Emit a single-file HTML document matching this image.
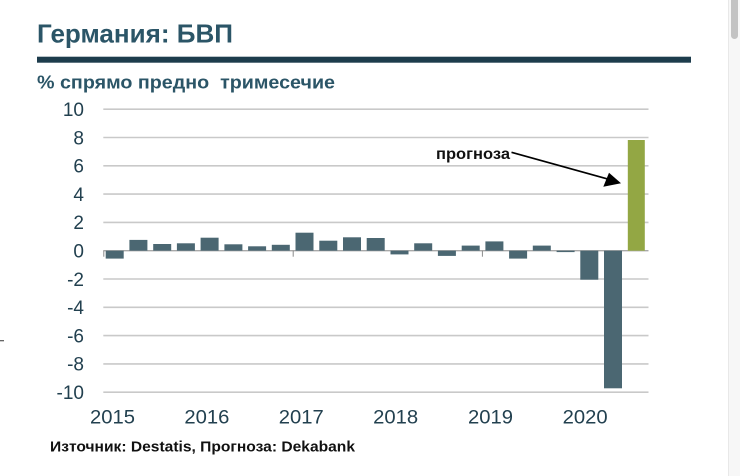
<!DOCTYPE html>
<html>
<head>
<meta charset="utf-8">
<style>
html,body{margin:0;padding:0;background:#fff;}
body{width:740px;height:476px;overflow:hidden;}
svg{display:block;}
text{font-family:"Liberation Sans","DejaVu Sans",sans-serif;}
</style>
</head>
<body>
<svg width="740" height="476" viewBox="0 0 740 476" xmlns="http://www.w3.org/2000/svg">
  <rect x="0" y="0" width="740" height="476" fill="#ffffff"/>
  <!-- scrollbar -->
  <rect x="728" y="0" width="12" height="476" fill="#f7f7f7"/>
  <line x1="728.5" y1="0" x2="728.5" y2="476" stroke="#e8e8e8" stroke-width="1"/>
  <rect x="731" y="-4" width="7" height="43" rx="3.5" fill="#c3c3c3"/>

  <!-- title -->
  <text x="37" y="42.3" font-size="26" font-weight="bold" fill="#2b5567" textLength="196" lengthAdjust="spacingAndGlyphs">Германия: БВП</text>
  <rect x="37" y="56.7" width="654" height="6" fill="#1d3c4c"/>
  <text x="37" y="88.3" font-size="18.5" font-weight="bold" fill="#2b5567" textLength="298" lengthAdjust="spacingAndGlyphs" xml:space="preserve">% спрямо предно  тримесечие</text>

  <!-- left stray dash -->
  <line x1="0" y1="340.7" x2="4" y2="340.7" stroke="#555" stroke-width="1.2"/>

  <!-- gridlines -->
  <g stroke="#c9c9c9" stroke-width="1.6">
    <line x1="103.3" y1="109.2" x2="648.5" y2="109.2"/>
    <line x1="103.3" y1="137.5" x2="648.5" y2="137.5"/>
    <line x1="103.3" y1="165.8" x2="648.5" y2="165.8"/>
    <line x1="103.3" y1="194.1" x2="648.5" y2="194.1"/>
    <line x1="103.3" y1="222.4" x2="648.5" y2="222.4"/>
    <line x1="103.3" y1="279.0" x2="648.5" y2="279.0"/>
    <line x1="103.3" y1="307.3" x2="648.5" y2="307.3"/>
    <line x1="103.3" y1="335.6" x2="648.5" y2="335.6"/>
    <line x1="103.3" y1="363.9" x2="648.5" y2="363.9"/>
    <line x1="103.3" y1="392.2" x2="648.5" y2="392.2"/>
  </g>
  <line x1="103.3" y1="250.7" x2="648.5" y2="250.7" stroke="#a9a9a9" stroke-width="1.4"/>
  <g stroke="#8a8a8a" stroke-width="1">
    <line x1="103.8" y1="250.7" x2="103.8" y2="256.7"/>
    <line x1="293.2" y1="250.7" x2="293.2" y2="256.7"/>
    <line x1="482.4" y1="250.7" x2="482.4" y2="256.7"/>
  </g>

  <!-- bars -->
  <g fill="#4b6772">
    <rect x="105.7" y="250.7" width="18" height="7.9"/>
    <rect x="129.4" y="239.9" width="18" height="10.8"/>
    <rect x="153.2" y="244.0" width="18" height="6.7"/>
    <rect x="176.9" y="243.3" width="18" height="7.4"/>
    <rect x="200.6" y="237.7" width="18" height="13.0"/>
    <rect x="224.4" y="244.3" width="18" height="6.4"/>
    <rect x="248.1" y="246.3" width="18" height="4.4"/>
    <rect x="271.8" y="244.8" width="18" height="5.9"/>
    <rect x="295.5" y="232.7" width="18" height="18.0"/>
    <rect x="319.3" y="240.7" width="18" height="10.0"/>
    <rect x="343.0" y="237.3" width="18" height="13.4"/>
    <rect x="366.7" y="238.0" width="18" height="12.7"/>
    <rect x="390.5" y="250.7" width="18" height="3.7"/>
    <rect x="414.2" y="243.3" width="18" height="7.4"/>
    <rect x="437.9" y="250.7" width="18" height="5.2"/>
    <rect x="461.7" y="245.6" width="18" height="5.1"/>
    <rect x="485.4" y="241.4" width="18" height="9.3"/>
    <rect x="509.1" y="250.7" width="18" height="7.9"/>
    <rect x="532.8" y="245.6" width="18" height="5.1"/>
    <rect x="556.6" y="250.7" width="18" height="1.4"/>
    <rect x="580.3" y="250.7" width="18" height="29.0"/>
    <rect x="604.0" y="250.7" width="18" height="137.6"/>
  </g>
  <rect x="627.8" y="140.0" width="17" height="110.7" fill="#93a744"/>

  <!-- y labels -->
  <g font-size="19" fill="#22404f" text-anchor="end">
    <text x="84" y="116.0">10</text>
    <text x="84" y="144.3">8</text>
    <text x="84" y="172.6">6</text>
    <text x="84" y="200.9">4</text>
    <text x="84" y="229.2">2</text>
    <text x="84" y="257.5">0</text>
    <text x="84" y="285.8">-2</text>
    <text x="84" y="314.1">-4</text>
    <text x="84" y="342.4">-6</text>
    <text x="84" y="370.7">-8</text>
    <text x="84" y="399.0">-10</text>
  </g>

  <!-- x labels -->
  <g font-size="19" fill="#22404f">
    <text x="90" y="423.3" textLength="45" lengthAdjust="spacingAndGlyphs">2015</text>
    <text x="184.4" y="423.3" textLength="45" lengthAdjust="spacingAndGlyphs">2016</text>
    <text x="278.8" y="423.3" textLength="45" lengthAdjust="spacingAndGlyphs">2017</text>
    <text x="373.2" y="423.3" textLength="45" lengthAdjust="spacingAndGlyphs">2018</text>
    <text x="468" y="423.3" textLength="45" lengthAdjust="spacingAndGlyphs">2019</text>
    <text x="562.7" y="423.3" textLength="45" lengthAdjust="spacingAndGlyphs">2020</text>
  </g>

  <!-- annotation -->
  <text x="436" y="159" font-size="16" font-weight="bold" fill="#111" textLength="74" lengthAdjust="spacingAndGlyphs">прогноза</text>
  <line x1="511.5" y1="152.3" x2="607" y2="178.8" stroke="#000" stroke-width="1.6"/>
  <polygon points="621,183.3 603.3,186.7 609,172.7" fill="#000"/>

  <!-- source -->
  <text x="50" y="451.6" font-size="14.5" font-weight="bold" fill="#111" textLength="305" lengthAdjust="spacingAndGlyphs">Източник: Destatis, Прогноза: Dekabank</text>
</svg>
</body>
</html>
